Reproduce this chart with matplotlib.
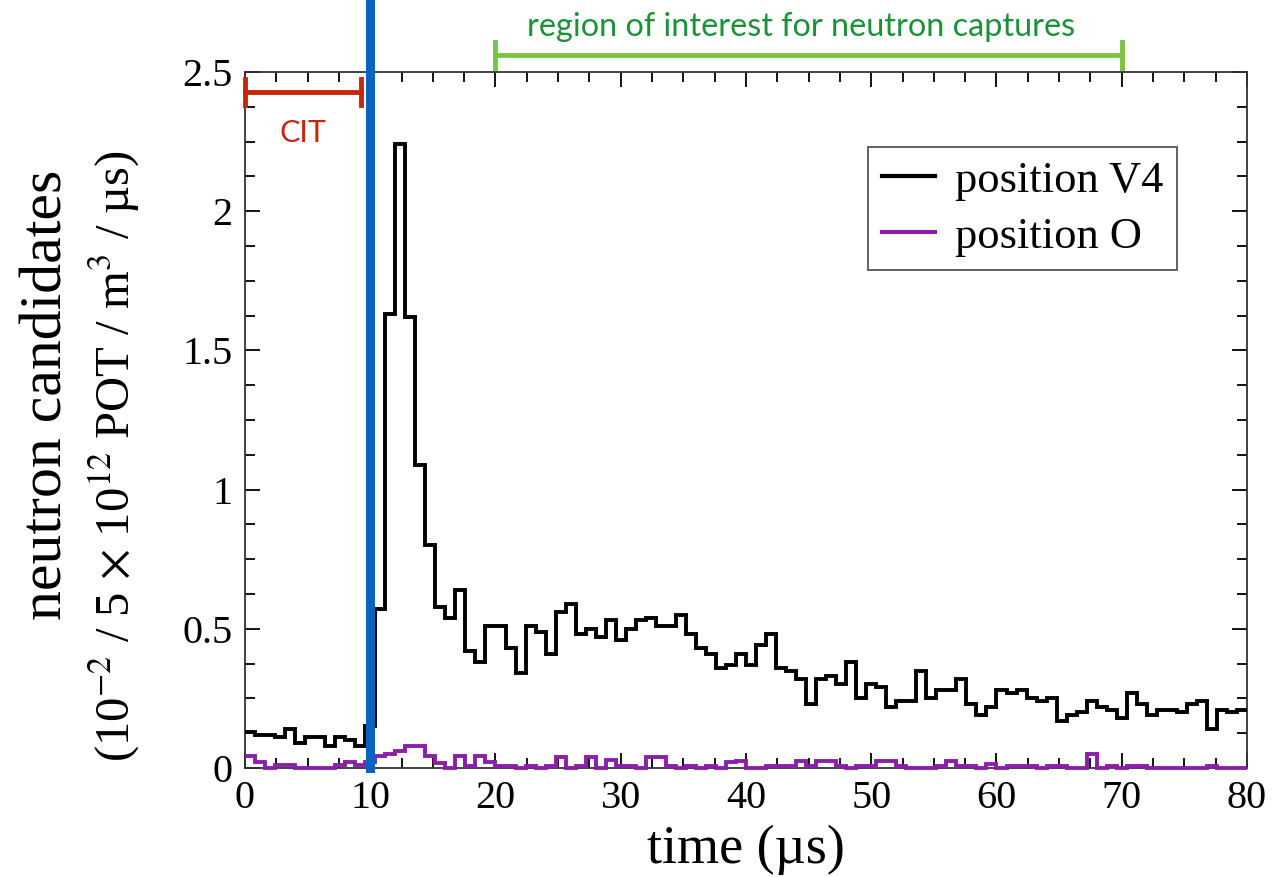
import numpy as np
import matplotlib
matplotlib.use("Agg")
import matplotlib.pyplot as plt
from matplotlib.ticker import MultipleLocator, FuncFormatter

# 0.8 us bins from 0 to 80 us
bin_edges = np.linspace(0, 80, 101)

# position V4 (black)
counts_v4 = [
    0.13, 0.12, 0.12, 0.11, 0.14, 0.09, 0.11, 0.11, 0.08, 0.11,
    0.10, 0.08, 0.15, 0.57, 1.63, 2.24, 1.62, 1.09, 0.80, 0.58,
    0.54, 0.64, 0.42, 0.38, 0.51, 0.51, 0.43, 0.34, 0.51, 0.49,
    0.41, 0.56, 0.59, 0.48, 0.50, 0.47, 0.53, 0.46, 0.50, 0.53,
    0.54, 0.51, 0.51, 0.55, 0.48, 0.43, 0.41, 0.36, 0.37, 0.41,
    0.37, 0.44, 0.48, 0.36, 0.35, 0.32, 0.23, 0.32, 0.33, 0.30,
    0.38, 0.25, 0.30, 0.29, 0.22, 0.24, 0.24, 0.35, 0.25, 0.28,
    0.28, 0.32, 0.23, 0.19, 0.22, 0.28, 0.27, 0.28, 0.25, 0.24,
    0.25, 0.17, 0.19, 0.20, 0.24, 0.22, 0.21, 0.18, 0.27, 0.23,
    0.19, 0.21, 0.21, 0.20, 0.23, 0.24, 0.14, 0.21, 0.20, 0.21,
]

# position O (purple)
counts_o = [
    0.044, 0.020, 0.000, 0.010, 0.010, 0.000, 0.000, 0.000, 0.000, 0.010,
    0.020, 0.010, 0.020, 0.044, 0.050, 0.060, 0.078, 0.078, 0.042, 0.018,
    0.000, 0.042, 0.006, 0.042, 0.020, 0.008, 0.008, 0.000, 0.008, 0.000,
    0.008, 0.040, 0.000, 0.008, 0.040, 0.000, 0.030, 0.008, 0.008, 0.000,
    0.040, 0.040, 0.008, 0.000, 0.008, 0.000, 0.008, 0.000, 0.020, 0.024,
    0.000, 0.000, 0.008, 0.008, 0.008, 0.024, 0.008, 0.024, 0.024, 0.008,
    0.000, 0.008, 0.008, 0.024, 0.024, 0.008, 0.000, 0.000, 0.000, 0.008,
    0.024, 0.008, 0.008, 0.000, 0.015, 0.000, 0.008, 0.008, 0.008, 0.000,
    0.008, 0.008, 0.000, 0.000, 0.050, 0.000, 0.008, 0.000, 0.008, 0.008,
    0.000, 0.000, 0.000, 0.000, 0.000, 0.000, 0.008, 0.000, 0.000, 0.000,
]

series_labels = ["position V4", "position O"]
cit_window = (0.0, 9.3)
roi_window = (20.0, 70.0)
beam_time = 10.0

plt.rcParams["font.family"] = ["Liberation Serif", "DejaVu Serif"]
plt.rcParams["mathtext.fontset"] = "stix"

fig = plt.figure(figsize=(12.74, 8.77), dpi=100)
ax = fig.add_axes([0.1923, 0.1243, 0.7865, 0.7936])

ax.stairs(counts_o, bin_edges, baseline=None, color="#8B1FA9", linewidth=2.8,
          label=series_labels[1], clip_on=False, zorder=3)
ax.stairs(counts_v4, bin_edges, baseline=None, color="black", linewidth=2.8,
          label=series_labels[0], zorder=4)

ax.set_xlim(0, 80)
ax.set_ylim(0, 2.5)

ax.xaxis.set_major_locator(MultipleLocator(10))
ax.xaxis.set_minor_locator(MultipleLocator(2.5))
ax.yaxis.set_major_locator(MultipleLocator(0.5))
ax.yaxis.set_minor_locator(MultipleLocator(0.125))
ax.yaxis.set_major_formatter(FuncFormatter(lambda v, _: "%g" % v))
ax.tick_params(which="both", direction="in", top=True, right=True, width=1.3)
ax.tick_params(which="major", length=11, labelsize=29, pad=9)
ax.tick_params(which="minor", length=7)
for s in ax.spines.values():
    s.set_linewidth(1.3)
    s.set_color("#333333")

ax.set_xlabel("time (µs)", fontsize=39, labelpad=5)
fig.text(0.037, 0.55, "neutron candidates", rotation=90, fontsize=43,
         ha="center", va="center")
fig.text(0.09, 0.48,
         r"(10$^{-2}$ / 5 $\times$ 10$^{12}$ POT / m$^{3}$ / µs)",
         rotation=90, fontsize=35, ha="center", va="center")

handles, labels = ax.get_legend_handles_labels()
leg = ax.legend(handles[::-1], labels[::-1], loc="upper right",
                bbox_to_anchor=(0.930, 0.892), borderaxespad=0,
                fontsize=32, handlelength=1.2, handletextpad=0.45,
                borderpad=0.3, labelspacing=0.36, fancybox=False,
                framealpha=1, edgecolor="#555555")
leg.get_frame().set_linewidth(1.3)
for h in leg.get_lines():
    h.set_linewidth(3)

# beam marker at 10 us, running up past the frame
ax.axvline(beam_time, ymin=0, ymax=768 / 696, color="#0563C1", linewidth=6.5,
           clip_on=False, zorder=6)

# CIT bracket
red = "#C8260C"
y_cit = 2.428
ax.plot(cit_window, [y_cit, y_cit], color=red, linewidth=3.5, clip_on=False, zorder=5)
for x in cit_window:
    ax.plot([x, x], [y_cit - 0.047, y_cit + 0.047], color=red, linewidth=3.5,
            clip_on=False, zorder=5)
ax.text(sum(cit_window) / 2, 2.281, "CIT", color=red, fontsize=22,
        family="Lato", ha="center", va="center")

# region of interest bracket above the frame
green = "#7CC243"
y_roi = 2.561
ax.plot(roi_window, [y_roi, y_roi], color=green, linewidth=3.5, clip_on=False)
for x in roi_window:
    ax.plot([x, x], [y_roi - 0.047, y_roi + 0.047], color=green, linewidth=3.5,
            clip_on=False)
ax.text(44.4, 2.66, "region of interest for neutron captures", color="#1B9138",
        fontsize=23.3, family="Lato", ha="center", va="center", clip_on=False)

fig.savefig("out.png", dpi=100)
